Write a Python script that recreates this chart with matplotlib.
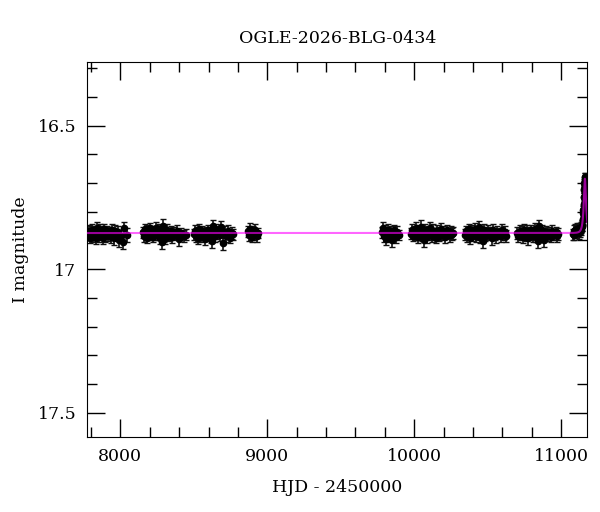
import numpy as np
import matplotlib
matplotlib.use("Agg")
import matplotlib.pyplot as plt
from matplotlib.ticker import MultipleLocator

# photometry, season by season (HJD - 2450000, I mag, error)
t1 = [7782, 7789, 7795, 7802, 7809, 7815, 7822, 7829, 7836, 7843, 7849,
      7856, 7863, 7870, 7877, 7884, 7891, 7898, 7905, 7912, 7919, 7926,
      7933, 7940, 7948, 7956, 7964, 7973, 7982, 7992, 8003, 8015, 8028, 8046]
m1 = [16.880, 16.866, 16.891, 16.872, 16.862, 16.884, 16.877, 16.869, 16.893,
      16.858, 16.875, 16.886, 16.864, 16.879, 16.871, 16.890, 16.860, 16.883,
      16.874, 16.868, 16.881, 16.870, 16.887, 16.863, 16.876, 16.892, 16.866,
      16.879, 16.872, 16.897, 16.884, 16.905, 16.856, 16.882]
e1 = [0.018, 0.020, 0.019, 0.021, 0.018, 0.020, 0.022, 0.019, 0.018, 0.021,
      0.020, 0.019, 0.023, 0.018, 0.020, 0.021, 0.019, 0.022, 0.020, 0.019,
      0.020, 0.018, 0.021, 0.020, 0.019, 0.022, 0.020, 0.019, 0.021, 0.024,
      0.022, 0.026, 0.022, 0.025]

t2 = [8151, 8158, 8165, 8172, 8179, 8186, 8193, 8200, 8207, 8214, 8221,
      8228, 8235, 8242, 8249, 8256, 8263, 8270, 8277, 8284, 8291, 8298,
      8305, 8312, 8320, 8328, 8336, 8345, 8354, 8364, 8375, 8387, 8400,
      8414, 8430, 8446]
m2 = [16.872, 16.884, 16.861, 16.878, 16.890, 16.866, 16.876, 16.858, 16.882,
      16.871, 16.887, 16.869, 16.880, 16.855, 16.874, 16.880, 16.864, 16.893,
      16.870, 16.905, 16.848, 16.887, 16.892, 16.874, 16.862, 16.883, 16.877,
      16.868, 16.889, 16.873, 16.881, 16.866, 16.896, 16.875, 16.884, 16.880]
e2 = [0.019, 0.020, 0.018, 0.021, 0.019, 0.020, 0.022, 0.019, 0.018, 0.020,
      0.019, 0.020, 0.018, 0.021, 0.019, 0.019, 0.020, 0.019, 0.020, 0.025,
      0.024, 0.019, 0.020, 0.019, 0.021, 0.018, 0.020, 0.019, 0.021, 0.020,
      0.019, 0.020, 0.022, 0.019, 0.021, 0.020]

t3 = [8503, 8510, 8517, 8524, 8531, 8538, 8545, 8552, 8559, 8566, 8573,
      8580, 8587, 8594, 8601, 8608, 8615, 8622, 8629, 8636, 8644, 8652,
      8660, 8669, 8678, 8688, 8698, 8709, 8720, 8732, 8745, 8757, 8768]
m3 = [16.878, 16.866, 16.885, 16.870, 16.892, 16.861, 16.876, 16.884, 16.867,
      16.879, 16.894, 16.871, 16.883, 16.865, 16.880, 16.874, 16.888, 16.902,
      16.850, 16.873, 16.886, 16.863, 16.877, 16.869, 16.882, 16.853, 16.908,
      16.871, 16.883, 16.866, 16.890, 16.875, 16.879]
e3 = [0.019, 0.020, 0.021, 0.018, 0.020, 0.019, 0.022, 0.020, 0.019, 0.021,
      0.020, 0.019, 0.018, 0.020, 0.021, 0.019, 0.020, 0.024, 0.022, 0.019,
      0.020, 0.021, 0.018, 0.020, 0.019, 0.022, 0.024, 0.020, 0.021, 0.019,
      0.020, 0.021, 0.019]

t4 = [8869, 8876, 8883, 8890, 8897, 8904, 8911, 8919, 8928, 8938]
m4 = [16.868, 16.882, 16.860, 16.877, 16.889, 16.871, 16.880, 16.865, 16.886,
      16.874]
e4 = [0.020, 0.019, 0.021, 0.020, 0.018, 0.020, 0.019, 0.021, 0.020, 0.019]

t5 = [9783, 9790, 9797, 9804, 9811, 9818, 9825, 9832, 9840, 9848, 9856,
      9865, 9874, 9884, 9894]
m5 = [16.872, 16.858, 16.886, 16.866, 16.895, 16.876, 16.862, 16.884, 16.869,
      16.900, 16.878, 16.864, 16.887, 16.870, 16.881]
e5 = [0.020, 0.021, 0.019, 0.020, 0.022, 0.019, 0.020, 0.021, 0.019, 0.023,
      0.020, 0.019, 0.021, 0.020, 0.019]

t6 = [9976, 9983, 9990, 9997, 10004, 10011, 10018, 10025, 10032, 10039,
      10046, 10053, 10060, 10067, 10074, 10081, 10088, 10095, 10102, 10109,
      10116, 10123, 10130, 10138, 10146, 10154, 10162, 10171, 10180, 10189,
      10199, 10209, 10220, 10231, 10242, 10253, 10260, 10265]
m6 = [16.876, 16.864, 16.884, 16.870, 16.880, 16.858, 16.875, 16.889, 16.866,
      16.879, 16.852, 16.883, 16.871, 16.898, 16.862, 16.877, 16.887, 16.869,
      16.880, 16.858, 16.873, 16.885, 16.866, 16.878, 16.891, 16.868, 16.874,
      16.883, 16.861, 16.879, 16.870, 16.888, 16.865, 16.876, 16.882, 16.869,
      16.877, 16.873]
e6 = [0.019, 0.020, 0.018, 0.021, 0.019, 0.022, 0.020, 0.019, 0.021, 0.018,
      0.022, 0.020, 0.019, 0.024, 0.020, 0.019, 0.021, 0.020, 0.018, 0.021,
      0.020, 0.019, 0.022, 0.020, 0.019, 0.021, 0.020, 0.018, 0.021, 0.019,
      0.020, 0.021, 0.019, 0.020, 0.022, 0.019, 0.020, 0.021]

t7 = [10344, 10351, 10358, 10365, 10372, 10379, 10386, 10393, 10400, 10407,
      10414, 10421, 10428, 10435, 10442, 10449, 10456, 10463, 10470, 10477,
      10485, 10493, 10501, 10510, 10519, 10528, 10537, 10547, 10557, 10567,
      10578, 10589, 10600, 10611, 10620, 10628]
m7 = [16.880, 16.868, 16.886, 16.872, 16.861, 16.891, 16.875, 16.866, 16.883,
      16.873, 16.860, 16.885, 16.870, 16.879, 16.854, 16.888, 16.869, 16.877,
      16.902, 16.863, 16.884, 16.874, 16.867, 16.881, 16.871, 16.893, 16.862,
      16.878, 16.886, 16.869, 16.875, 16.883, 16.864, 16.879, 16.872, 16.885]
e7 = [0.019, 0.020, 0.021, 0.019, 0.020, 0.022, 0.019, 0.020, 0.018, 0.021,
      0.020, 0.019, 0.020, 0.019, 0.022, 0.020, 0.019, 0.021, 0.024, 0.020,
      0.019, 0.021, 0.020, 0.019, 0.018, 0.021, 0.020, 0.019, 0.022, 0.020,
      0.019, 0.021, 0.020, 0.019, 0.021, 0.020]

t8 = [10703, 10710, 10717, 10724, 10731, 10738, 10745, 10752, 10759, 10766,
      10773, 10780, 10787, 10794, 10801, 10808, 10815, 10822, 10829, 10836,
      10843, 10850, 10857, 10865, 10873, 10881, 10890, 10899, 10909, 10919,
      10930, 10941, 10952, 10963, 10973, 10982]
m8 = [16.874, 16.885, 16.866, 16.879, 16.870, 16.888, 16.862, 16.876, 16.883,
      16.868, 16.892, 16.873, 16.880, 16.865, 16.877, 16.886, 16.871, 16.860,
      16.884, 16.875, 16.903, 16.850, 16.871, 16.885, 16.865, 16.899, 16.876,
      16.869, 16.882, 16.874, 16.887, 16.866, 16.879, 16.872, 16.884, 16.876]
e8 = [0.020, 0.019, 0.021, 0.019, 0.020, 0.021, 0.019, 0.020, 0.018, 0.021,
      0.022, 0.019, 0.020, 0.019, 0.021, 0.020, 0.019, 0.020, 0.021, 0.019,
      0.024, 0.023, 0.019, 0.021, 0.020, 0.024, 0.019, 0.020, 0.021, 0.020,
      0.019, 0.021, 0.020, 0.019, 0.020, 0.021]

t9 = [11080, 11085, 11090, 11095, 11100, 11105, 11110, 11115, 11120, 11125,
      11129, 11133, 11137, 11140, 11143, 11146, 11148, 11150, 11152, 11153,
      11154, 11155, 11156, 11157, 11158, 11159, 11160, 11161, 11162, 11163,
      11164, 11165, 11166, 11167, 11168, 11170, 11172, 11174]
m9 = [16.879, 16.866, 16.881, 16.862, 16.873, 16.860, 16.870, 16.864, 16.875,
      16.858, 16.870, 16.855, 16.863, 16.848, 16.850, 16.830, 16.826, 16.805,
      16.795, 16.775, 16.772, 16.750, 16.748, 16.725, 16.720, 16.700, 16.698,
      16.680, 16.690, 16.678, 16.700, 16.708, 16.712, 16.735, 16.738, 16.775,
      16.785, 16.815]
e9 = [0.019, 0.020, 0.018, 0.020, 0.019, 0.020, 0.019, 0.018, 0.019, 0.020,
      0.019, 0.018, 0.019, 0.018, 0.018, 0.017, 0.017, 0.017, 0.016, 0.016,
      0.016, 0.016, 0.015, 0.015, 0.015, 0.015, 0.014, 0.014, 0.014, 0.014,
      0.014, 0.015, 0.015, 0.015, 0.015, 0.016, 0.016, 0.017]

hjd = t1 + t2 + t3 + t4 + t5 + t6 + t7 + t8 + t9
mag = m1 + m2 + m3 + m4 + m5 + m6 + m7 + m8 + m9
err = e1 + e2 + e3 + e4 + e5 + e6 + e7 + e8 + e9

# point-lens model parameters
t0 = 11162.0
tE = 15.0
u0 = 0.5
fs = 0.161
I0 = 16.874

x_min, x_max = 7775, 11179
y_top, y_bot = 16.279, 17.584


def paczynski(t):
    u = np.sqrt(u0 ** 2 + ((t - t0) / tE) ** 2)
    A = (u ** 2 + 2) / (u * np.sqrt(u ** 2 + 4))
    return I0 - 2.5 * np.log10(fs * A + (1 - fs))


plt.rcParams['font.family'] = 'DejaVu Serif'

fig = plt.figure(figsize=(6, 5.12), dpi=100)
ax = fig.add_axes([0.1455, 0.147, 0.8335, 0.7313])

ax.errorbar(hjd, mag, yerr=err, fmt='o', color='black', ms=4.5,
            elinewidth=1.2, capsize=2.5, capthick=1.0, ecolor='#111111',
            zorder=2)

tt = np.linspace(x_min, x_max, 5000)
ax.plot(tt, paczynski(tt), color='#ff00ff', lw=1.5, alpha=0.6, zorder=3)

ax.set_xlim(x_min, x_max)
ax.set_ylim(y_bot, y_top)

ax.xaxis.set_major_locator(MultipleLocator(1000))
ax.xaxis.set_minor_locator(MultipleLocator(200))
ax.yaxis.set_major_locator(MultipleLocator(0.5))
ax.yaxis.set_minor_locator(MultipleLocator(0.1))
ax.set_yticks([16.5, 17, 17.5])
ax.set_yticklabels(['16.5', '17', '17.5'])

ax.tick_params(which='both', direction='in', top=True, right=True,
               labelsize=12.5)
ax.tick_params(which='major', length=13, width=1.0, pad=8)
ax.tick_params(which='minor', length=7, width=1.0)

ax.set_xlabel('HJD - 2450000', fontsize=12.5, labelpad=10)
ax.set_ylabel('I magnitude', fontsize=12.5, labelpad=6)
ax.set_title('OGLE-2026-BLG-0434', fontsize=12.5, pad=14)

fig.savefig('out.png', dpi=100)
